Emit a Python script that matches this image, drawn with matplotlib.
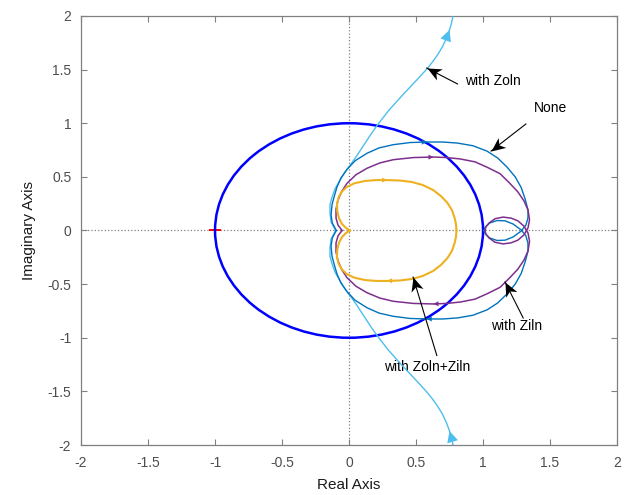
import numpy as np
import matplotlib.pyplot as plt
from matplotlib.patches import Circle
from matplotlib.path import Path
from matplotlib.markers import MarkerStyle
from matplotlib.transforms import Affine2D

plt.rcParams['font.family'] = ['Liberation Sans', 'DejaVu Sans']

# Nyquist branches (positive imaginary half, from high-freq end towards DC / infinity);
# the negative half is the complex conjugate of each branch
none_re = [-0.095, -0.125, -0.134, -0.127, -0.11, -0.09, -0.06, -0.015, 0.045, 0.134, 0.224,
           0.33, 0.455, 0.58, 0.70, 0.81, 0.925, 1.03, 1.11, 1.18, 1.24, 1.285, 1.315,
           1.336, 1.335, 1.32, 1.285, 1.225, 1.165, 1.105, 1.05, 1.015, 1.007]
none_im = [0.0, 0.07, 0.145, 0.24, 0.32, 0.405, 0.49, 0.57, 0.65, 0.72, 0.77,
           0.80, 0.82, 0.825, 0.825, 0.815, 0.79, 0.74, 0.675, 0.59, 0.50, 0.40, 0.29,
           0.19, 0.115, 0.05, -0.005, -0.06, -0.09, -0.093, -0.07, -0.03, 0.0]

ziln_re = [-0.052, -0.082, -0.097, -0.097, -0.082, -0.052, -0.015, 0.052, 0.134, 0.23, 0.33,
           0.48, 0.63, 0.73, 0.83, 0.94, 1.03, 1.127, 1.20, 1.26, 1.306, 1.336, 1.347,
           1.336, 1.306, 1.26, 1.21, 1.15, 1.09, 1.045, 1.022, 1.015]
ziln_im = [0.0, 0.05, 0.115, 0.20, 0.285, 0.37, 0.44, 0.52, 0.58, 0.63, 0.66,
           0.68, 0.685, 0.68, 0.667, 0.64, 0.59, 0.53, 0.44, 0.36, 0.275, 0.19, 0.10,
           0.025, -0.04, -0.09, -0.115, -0.125, -0.11, -0.07, -0.035, 0.0]

both_re = [0.007, -0.022, -0.052, -0.075, -0.088, -0.09, -0.078, -0.055, -0.018, 0.04, 0.12,
           0.20, 0.284, 0.38, 0.47, 0.55, 0.627, 0.687, 0.735, 0.768, 0.788, 0.798, 0.802]
both_im = [0.0, 0.023, 0.06, 0.115, 0.18, 0.245, 0.31, 0.36, 0.405, 0.44, 0.462,
           0.47, 0.47, 0.466, 0.452, 0.424, 0.378, 0.32, 0.256, 0.19, 0.117, 0.06, 0.0]

zoln_re = [-0.10, -0.134, -0.142, -0.142, -0.127, -0.105, -0.067, -0.03, 0.015, 0.06, 0.112,
           0.17, 0.228, 0.293, 0.366, 0.42, 0.47, 0.518, 0.58, 0.622, 0.66, 0.696, 0.728,
           0.75, 0.765, 0.776, 0.787]
zoln_im = [0.0, 0.08, 0.163, 0.24, 0.31, 0.387, 0.47, 0.545, 0.62, 0.70, 0.80,
           0.91, 1.01, 1.114, 1.217, 1.29, 1.356, 1.42, 1.505, 1.57, 1.636, 1.71, 1.795,
           1.87, 1.935, 2.0, 2.075]

unit_r = 1.0
crit_pt = (-1.0, 0.0)

# callouts: (label, text position, arrow tail, arrow tip)
notes = [('with Zoln', (0.866, 1.39), (0.81, 1.366), (0.58, 1.515), 'left'),
         ('None', (1.50, 1.142), (1.32, 0.993), (1.06, 0.741), 'center'),
         ('with Ziln', (1.254, -0.89), (1.30, -0.816), (1.164, -0.48), 'center'),
         ('with Zoln+Ziln', (0.582, -1.273), (0.655, -1.165), (0.478, -0.434), 'center')]

C_NONE = '#0072BD'
C_ZILN = '#7E2F8E'
C_BOTH = '#EDB120'
C_ZOLN = '#4DBEEE'
GRAY = '#808080'

# notched arrow head, tip at the origin pointing along +x
HEAD = Path([(0, 0), (-1, 0.45), (-0.72, 0), (-1, -0.45), (0, 0)],
            [Path.MOVETO, Path.LINETO, Path.LINETO, Path.LINETO, Path.CLOSEPOLY])


def branch_arrows(ax, re, im, k, color, size):
    # direction marks: upper half runs k-1 -> k, conjugate half runs k+1 -> k
    props = dict(arrowstyle='-|>', color=color, lw=0, mutation_scale=size,
                 shrinkA=0, shrinkB=0)
    ax.annotate('', xy=(re[k], im[k]), xytext=(re[k-1], im[k-1]), arrowprops=props)
    ax.annotate('', xy=(re[k], -im[k]), xytext=(re[k+1], -im[k+1]), arrowprops=props)


def callout(ax, tail, tip):
    ax.plot([tail[0], tip[0]], [tail[1], tip[1]], color='black', lw=0.8, zorder=6)
    p0 = ax.transData.transform(tail)
    p1 = ax.transData.transform(tip)
    ang = np.degrees(np.arctan2(p1[1] - p0[1], p1[0] - p0[0]))
    m = MarkerStyle(HEAD, transform=Affine2D().rotate_deg(ang))
    ax.plot(tip[0], tip[1], marker=m, ms=20, color='black', mew=0, zorder=7)


fig = plt.figure(figsize=(6.35, 4.95), dpi=100)
ax = fig.add_axes([0.1276, 0.1010, 0.8441, 0.8667])
ax.set_xlim(-2, 2)
ax.set_ylim(-2, 2)

ax.axhline(0, color=GRAY, ls=':', lw=0.9, zorder=0)
ax.axvline(0, color=GRAY, ls=':', lw=0.9, zorder=0)

ax.add_patch(Circle((0, 0), unit_r, fill=False, ec='#0000FF', lw=1.8, zorder=3))
ax.plot(*crit_pt, '+', color='red', ms=9, mew=1.4, zorder=2)

curves = [(zoln_re, zoln_im, C_ZOLN, 1.0, 23, 20),
          (none_re, none_im, C_NONE, 1.0, 13, 9),
          (ziln_re, ziln_im, C_ZILN, 1.1, 12, 9),
          (both_re, both_im, C_BOTH, 1.5, 12, 9)]
for re, im, c, lw, k, ms in curves:
    re = np.array(re)
    im = np.array(im)
    ax.plot(re, im, color=c, lw=lw, zorder=4)
    ax.plot(re, -im, color=c, lw=lw, zorder=4)
    branch_arrows(ax, re, im, k, c, ms)

ticks = np.arange(-2, 2.01, 0.5)
tick_lbl = ['-2', '-1.5', '-1', '-0.5', '0', '0.5', '1', '1.5', '2']
ax.set_xticks(ticks)
ax.set_yticks(ticks)
ax.set_xticklabels(tick_lbl)
ax.set_yticklabels(tick_lbl)
ax.tick_params(direction='in', top=True, right=True, length=4.5, width=0.8,
               color=GRAY, labelcolor='#4d4d4d', labelsize=10)
ax.tick_params(axis='x', pad=8)
ax.tick_params(axis='y', pad=7)
for s in ax.spines.values():
    s.set_color(GRAY)
    s.set_linewidth(0.9)

ax.set_xlabel('Real Axis', fontsize=11, color='#1a1a1a', labelpad=6)
ax.set_ylabel('Imaginary Axis', fontsize=11, color='#1a1a1a', labelpad=8)

for label, txt, tail, tip, ha in notes:
    callout(ax, tail, tip)
    ax.text(txt[0], txt[1], label, fontsize=10, va='center', ha=ha)

fig.savefig('out.png', dpi=100)
